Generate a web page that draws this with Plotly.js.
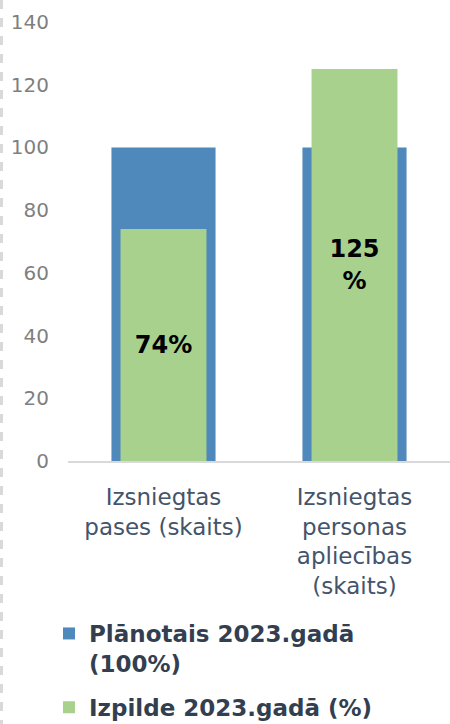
<!DOCTYPE html>
<html>
<head>
<meta charset="utf-8">
<script src="https://cdn.plot.ly/plotly-3.0.1.min.js"></script>
<style>html,body{margin:0;padding:0;background:#fff}#chart{width:450px;height:724px}</style>
</head>
<body>
<div id="chart"></div>
<script>
const categories = ["Izsniegtas<br>pases (skaits)", "Izsniegtas<br>personas<br>apliecības<br>(skaits)"];
const planned = [100, 100];
const actual = [74, 125];
const actualLabels = ["74%", "125<br>%"];
const seriesNames = ["Plānotais 2023.gadā<br>(100%)", "Izpilde 2023.gadā (%)"];
const yTicks = [0, 20, 40, 60, 80, 100, 120, 140];

const font = "DejaVu Sans, Verdana, sans-serif";

const traces = [
  {
    type: "bar", x: categories, y: planned, name: seriesNames[0],
    width: 0.545, marker: {color: "#4f88bb"}, hoverinfo: "skip",
    legendgroup: "a"
  },
  {
    type: "bar", x: categories, y: actual, name: seriesNames[1],
    width: 0.45, marker: {color: "#a9d18e"},
    text: actualLabels, textposition: "inside", insidetextanchor: "middle",
    textangle: 0, constraintext: "none",
    textfont: {family: font, size: 24, color: "#000000", weight: "bold"},
    hoverinfo: "skip", legendgroup: "b"
  }
];

const H = 439, topPx = 22, W = 382, leftPx = 68;
const layout = {
  width: 450, height: 724,
  margin: {l: leftPx, r: 0, t: topPx, b: 724 - topPx - H, pad: 0, autoexpand: false},
  paper_bgcolor: "#ffffff", plot_bgcolor: "#ffffff",
  barmode: "overlay",
  showlegend: true,
  font: {family: font},
  xaxis: {
    type: "category", range: [-0.5, 1.5], automargin: false,
    showgrid: false, zeroline: false,
    showline: true, linecolor: "#d9d9d9", linewidth: 2,
    ticks: "", ticklabelstandoff: 14,
    tickfont: {family: font, size: 23, color: "#44546a"},
    fixedrange: true
  },
  yaxis: {
    range: [0, 140], tickvals: yTicks, ticktext: yTicks.map(String),
    automargin: false,
    showgrid: false, zeroline: false, showline: false,
    ticks: "", ticklabelstandoff: 18,
    tickfont: {family: font, size: 20, color: "#7f7f7f"},
    fixedrange: true
  },
  legend: {
    orientation: "v", x: (49 - leftPx) / W, xanchor: "left",
    y: -(612 - (topPx + H)) / H, yanchor: "top",
    valign: "top", tracegroupgap: 11, itemwidth: 30,
    font: {family: font, size: 23, color: "#333f50", weight: "bold"},
    bgcolor: "rgba(0,0,0,0)"
  },
  shapes: [{
    type: "line", xref: "paper", yref: "paper",
    x0: (1.5 - leftPx) / W, x1: (1.5 - leftPx) / W,
    y0: (topPx + H) / H, y1: (topPx + H - 724) / H,
    line: {color: "#d9d9d9", width: 3, dash: "dash"}
  }]
};

Plotly.newPlot("chart", traces, layout, {displayModeBar: false, staticPlot: true});
</script>
</body>
</html>
